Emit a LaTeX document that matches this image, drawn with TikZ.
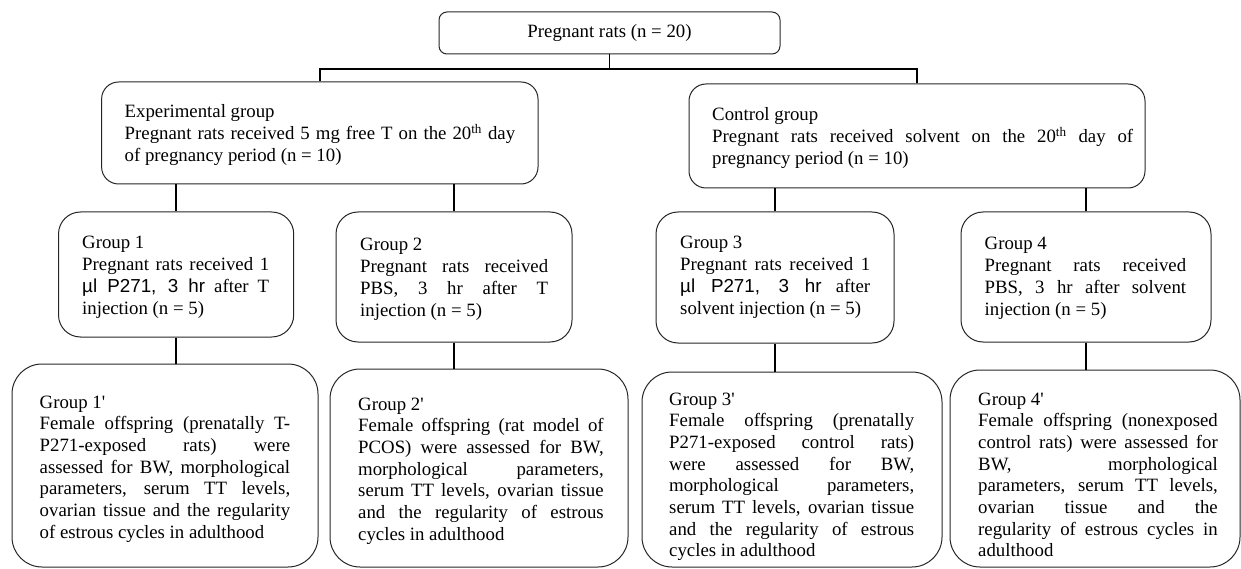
\documentclass[tikz,border=0pt]{standalone}
\usepackage{fontspec}
\setmainfont{Liberation Serif}
\newfontfamily\sansalt{Liberation Sans}
\begin{document}
\begin{tikzpicture}[x=1pt,y=-1pt,
  box/.style={draw=black!85, line width=1pt, inner sep=0pt},
  conn/.style={draw=black, line width=1.8pt},
  txt/.style={inner sep=0pt, align=justify, anchor=base west, font=\fontsize{18.8}{21.7}\selectfont},
  ctxt/.style={inner sep=0pt, font=\fontsize{18.8}{21.7}\selectfont}]
\useasboundingbox (0,0) rectangle (1241,569);
\hbadness=10000 \hfuzz=20pt

% boxes
\node[box, rounded corners=8pt, minimum width=341pt, minimum height=42pt] (top) at (609.5,33) {};
\node[box, rounded corners=17pt, minimum width=436.4pt, minimum height=102pt] (exp) at (319.8,133) {};
\node[box, rounded corners=17pt, minimum width=456pt, minimum height=104pt] (ctrl) at (917,136) {};
\node[box, rounded corners=22pt, minimum width=235.2pt, minimum height=125pt] (g1) at (176.1,274.5) {};
\node[box, rounded corners=22pt, minimum width=236pt, minimum height=130pt] (g2) at (454,277) {};
\node[box, rounded corners=22pt, minimum width=238pt, minimum height=131pt] (g3) at (775,277.5) {};
\node[box, rounded corners=22pt, minimum width=250pt, minimum height=130pt] (g4) at (1086,277) {};
\node[box, rounded corners=30pt, minimum width=306pt, minimum height=203pt] (g1p) at (165,465.5) {};
\node[box, rounded corners=30pt, minimum width=298pt, minimum height=198pt] (g2p) at (479,468) {};
\node[box, rounded corners=30pt, minimum width=300pt, minimum height=195pt] (g3p) at (792,469.5) {};
\node[box, rounded corners=30pt, minimum width=290pt, minimum height=197pt] (g4p) at (1095,468.5) {};

% texts
\node[ctxt] (topt) at (top.center) {Pregnant rats (n = 20)};
\node[txt, text width=390.5pt] (expt) at (124.5,118) {Experimental group\\ Pregnant rats received 5 mg free T on the 20\textsuperscript{th} day\linebreak of pregnancy period (n = 10)};
\node[txt, text width=421pt] (ctrlt) at (712,121) {Control group\\ Pregnant rats received solvent on the 20\textsuperscript{th} day of\linebreak pregnancy period (n = 10)};
\node[txt, text width=187pt] (g1t) at (82,249) {Group 1\\ Pregnant rats received 1\linebreak {\sansalt µl P271, 3 hr} after T\linebreak injection (n = 5)};
\node[txt, text width=188pt] (g2t) at (360,251) {Group 2\\ Pregnant rats received\linebreak PBS, 3 hr after T\linebreak injection (n = 5)};
\node[txt, text width=190pt] (g3t) at (680,249) {Group 3\\ Pregnant rats received 1\linebreak {\sansalt µl P271, 3 hr} after\linebreak solvent injection (n = 5)};
\node[txt, text width=201.5pt] (g4t) at (984.5,250) {Group 4\\ Pregnant rats received\linebreak PBS, 3 hr after solvent\linebreak injection (n = 5)};
\node[txt, text width=250.5pt] (g1pt) at (39.5,408) {Group 1\textquotesingle\\ Female offspring (prenatally T-\linebreak P271-exposed rats) were\linebreak assessed for BW, morphological\linebreak parameters, serum TT levels,\linebreak ovarian tissue and the regularity\linebreak of estrous cycles in adulthood};
\node[txt, text width=245.5pt] (g2pt) at (358,410) {Group 2\textquotesingle\\ Female offspring (rat model of\linebreak PCOS) were assessed for BW,\linebreak morphological parameters,\linebreak serum TT levels, ovarian tissue\linebreak and the regularity of estrous\linebreak cycles in adulthood};
\node[txt, text width=245pt] (g3pt) at (669,405) {Group 3\textquotesingle\\ Female offspring (prenatally\linebreak P271-exposed control rats)\linebreak were assessed for BW,\linebreak morphological parameters,\linebreak serum TT levels, ovarian tissue\linebreak and the regularity of estrous\linebreak cycles in adulthood};
\node[txt, text width=239.6pt] (g4pt) at (978,405) {Group 4\textquotesingle\\ Female offspring (nonexposed\linebreak control rats) were assessed for\linebreak BW, morphological\linebreak parameters, serum TT levels,\linebreak ovarian tissue and the\linebreak regularity of estrous cycles in\linebreak adulthood};

% connectors
\coordinate (lvl) at (0,69);
\coordinate (split) at (top.south |- lvl);
\draw[conn] (top.south) -- (split);
\draw[conn] (split) -| (exp.north);
\draw[conn] (split) -| (ctrl.north);
\draw[conn] (g1.north |- exp.south) -- (g1.north);
\draw[conn] (g2.north |- exp.south) -- (g2.north);
\draw[conn] (g3.north |- ctrl.south) -- (g3.north);
\draw[conn] (g4.north |- ctrl.south) -- (g4.north);
\draw[conn] (g1.south) -- (g1.south |- g1p.north);
\draw[conn] (g2.south) -- (g2.south |- g2p.north);
\draw[conn] (g3.south) -- (g3.south |- g3p.north);
\draw[conn] (g4.south) -- (g4.south |- g4p.north);
\end{tikzpicture}
\end{document}
